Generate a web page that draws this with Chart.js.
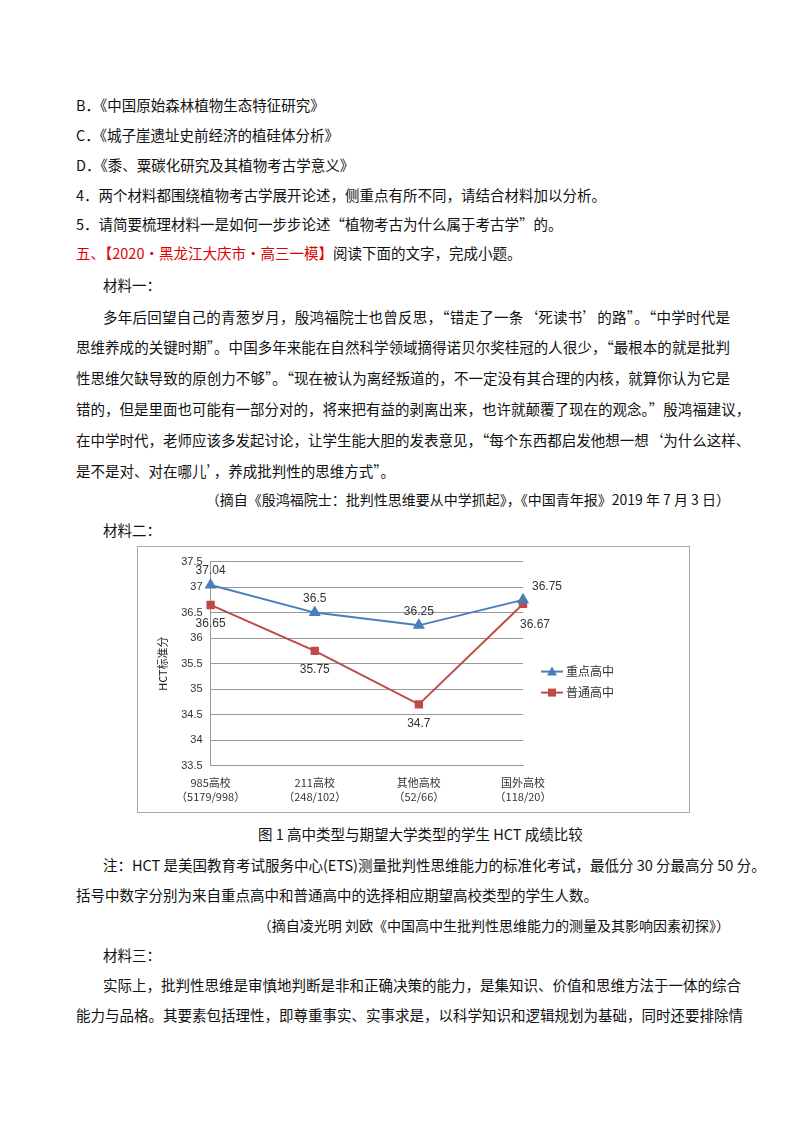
<!DOCTYPE html>
<html><head><meta charset="utf-8">
<script src="https://cdn.jsdelivr.net/npm/chart.js@4"></script>
<style>
body{margin:0;width:800px;height:1132px;background:#fff;font-family:"Noto Sans CJK SC",sans-serif;color:#111;position:relative;overflow:hidden}
.l{position:absolute;left:76px;font-size:14.5px;line-height:20px;white-space:nowrap}
.j{width:654px;text-align:justify;text-align-last:justify}
.rt{left:auto;right:70px;font-size:14px}
.r{color:#e00000}
#box{position:absolute;left:137px;top:546px;width:553px;height:267px;border:1px solid #aaa;box-sizing:border-box}
</style></head><body>
<div class="l" style="top:95px">B．《中国原始森林植物生态特征研究》</div>
<div class="l" style="top:125px">C．《城子崖遗址史前经济的植硅体分析》</div>
<div class="l" style="top:155px">D．《黍、粟碳化研究及其植物考古学意义》</div>
<div class="l" style="top:185px">4．两个材料都围绕植物考古学展开论述，侧重点有所不同，请结合材料加以分析。</div>
<div class="l" style="top:214px">5．请简要梳理材料一是如何一步步论述“植物考古为什么属于考古学”的。</div>
<div class="l" style="top:243px"><span class="r">五、【2020•黑龙江大庆市•高三一模】</span>阅读下面的文字，完成小题。</div>
<div class="l" style="top:275px;left:103px">材料一：</div>
<div class="l j" style="top:307px;left:103px;width:627px">多年后回望自己的青葱岁月，殷鸿福院士也曾反思，“错走了一条‘死读书’的路”。“中学时代是</div>
<div class="l j" style="top:337px">思维养成的关键时期”。中国多年来能在自然科学领域摘得诺贝尔奖桂冠的人很少，“最根本的就是批判</div>
<div class="l j" style="top:368px">性思维欠缺导致的原创力不够”。“现在被认为离经叛道的，不一定没有其合理的内核，就算你认为它是</div>
<div class="l j" style="top:399px">错的，但是里面也可能有一部分对的，将来把有益的剥离出来，也许就颠覆了现在的观念。”殷鸿福建议，</div>
<div class="l j" style="top:430px">在中学时代，老师应该多发起讨论，让学生能大胆的发表意见，“每个东西都启发他想一想‘为什么这样、</div>
<div class="l" style="top:461px">是不是对、对在哪儿’，养成批判性的思维方式”。</div>
<div class="l rt" style="top:489px">（摘自《殷鸿福院士：批判性思维要从中学抓起》，《中国青年报》2019 年 7 月 3 日）</div>
<div class="l" style="top:520px;left:103px">材料二：</div>
<div id="box"><canvas id="c" width="551" height="265"></canvas></div>
<div class="l" style="top:824px;left:258px">图 1  高中类型与期望大学类型的学生 HCT 成绩比较</div>
<div class="l j" style="top:855px;left:103px;width:627px">注：HCT 是美国教育考试服务中心(ETS)测量批判性思维能力的标准化考试，最低分 30 分最高分 50 分。</div>
<div class="l" style="top:885px">括号中数字分别为来自重点高中和普通高中的选择相应期望高校类型的学生人数。</div>
<div class="l rt" style="top:915px">（摘自凌光明  刘欧《中国高中生批判性思维能力的测量及其影响因素初探》）</div>
<div class="l" style="top:945px;left:103px">材料三：</div>
<div class="l j" style="top:975px;left:103px;width:627px">实际上，批判性思维是审慎地判断是非和正确决策的能力，是集知识、价值和思维方法于一体的综合</div>
<div class="l j" style="top:1005px">能力与品格。其要素包括理性，即尊重事实、实事求是，以科学知识和逻辑规划为基础，同时还要排除情</div>
<script>
const categories=[["985高校","（5179/998）"],["211高校","（248/102）"],["其他高校","（52/66）"],["国外高校","（118/20）"]];
const keySchool=[37.04,36.5,36.25,36.75];
const normalSchool=[36.65,35.75,34.7,36.67];
const seriesNames=["重点高中","普通高中"];
const labelPlugin={id:'lbl',afterDatasetsDraw(ch){const ctx=ch.ctx;ctx.save();ctx.font='12px "Liberation Sans",sans-serif';ctx.fillStyle='#333';ctx.textAlign='center';ctx.textBaseline='middle';
ch.data.datasets.forEach((ds,di)=>{ch.getDatasetMeta(di).data.forEach((p,i)=>{let x=p.x,y=p.y;
if(di===0){if(i===3){x+=24;y-=13;}else y-=14;}else{if(i===3){x+=12;y+=21;}else y+=19;}
ctx.fillText(String(ds.data[i]),x,y);});});
// legend
const lx=ch.chartArea.right+18;[0,1].forEach(di=>{const ds=ch.data.datasets[di];const y=ch.chartArea.top+110+di*21;
ctx.strokeStyle=ds.borderColor;ctx.lineWidth=2;ctx.beginPath();ctx.moveTo(lx,y);ctx.lineTo(lx+22,y);ctx.stroke();
ctx.fillStyle=ds.borderColor;ctx.beginPath();if(di===0){ctx.moveTo(lx+11,y-5);ctx.lineTo(lx+16,y+4);ctx.lineTo(lx+6,y+4);}else{ctx.rect(lx+7,y-4,8,8);}ctx.fill();
ctx.fillStyle='#333';ctx.textAlign='left';ctx.font='12px "Noto Sans CJK SC"';ctx.fillText(ds.label,lx+25,y);});
ctx.restore();}};
new Chart(document.getElementById('c'),{type:'line',
data:{labels:categories,datasets:[
{label:seriesNames[0],data:keySchool,borderColor:'#4a7ebb',backgroundColor:'#4a7ebb',pointStyle:'triangle',pointRadius:5,borderWidth:2,tension:0},
{label:seriesNames[1],data:normalSchool,borderColor:'#be4b48',backgroundColor:'#be4b48',pointStyle:'rect',pointRadius:4.5,borderWidth:2,tension:0}]},
options:{responsive:false,animation:false,devicePixelRatio:1,
layout:{padding:{top:6,right:166,bottom:6,left:14}},
plugins:{legend:{display:false},tooltip:{enabled:false}},
scales:{y:{min:33.5,max:37.5,ticks:{stepSize:0.5,font:{size:11},color:'#333',padding:8,callback:v=>String(v)},grid:{color:'#999',drawTicks:false},border:{color:'#999'},
title:{display:true,text:'HCT标准分',font:{size:11,family:'"Noto Sans CJK SC"'},color:'#222'}},
x:{ticks:{font:{size:11,family:'"Noto Sans CJK SC"'},color:'#333'},grid:{display:false},border:{color:'#999'}}}},
plugins:[labelPlugin]});
</script>
</body></html>
